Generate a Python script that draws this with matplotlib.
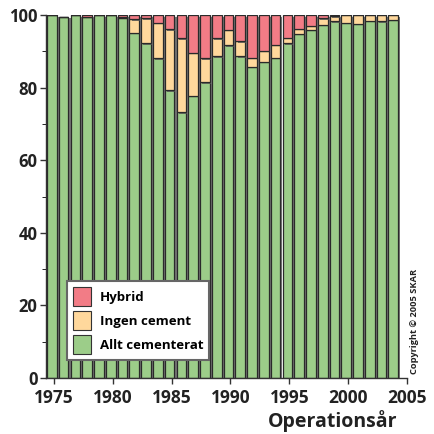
#!/usr/bin/env python3
"""
stacked share of fixation type per operation year
"""

import numpy as np
import matplotlib
matplotlib.use('Agg')
import matplotlib.pyplot as plt
import matplotlib.patheffects as pe
from matplotlib.patches import Patch

years = list(range(1975, 2005))

# percent per year
allt_cementerat = [100.0, 99.5, 100.0, 99.5, 100.0, 100.0, 99.3, 95.2, 92.2, 88.1,
                   79.3, 73.2, 77.7, 81.5, 88.7, 91.7, 88.7, 85.8, 87.2, 88.3,
                   92.2, 94.8, 96.0, 97.4, 98.3, 97.9, 97.6, 98.5, 98.3, 98.8]
ingen_cement = [0.0, 0.0, 0.0, 0.0, 0.0, 0.0, 0.2, 3.7, 6.9, 9.8,
                16.8, 20.4, 11.9, 6.6, 4.9, 4.2, 4.1, 2.5, 3.0, 3.6,
                1.6, 1.5, 1.0, 1.7, 1.4, 2.1, 2.4, 1.5, 1.7, 1.2]
hybrid = [0.0, 0.0, 0.0, 0.5, 0.0, 0.0, 0.5, 1.1, 0.9, 2.1,
          3.9, 6.4, 10.4, 11.9, 6.4, 4.1, 7.2, 11.7, 9.8, 8.1,
          6.2, 3.7, 3.0, 0.9, 0.3, 0.0, 0.0, 0.0, 0.0, 0.0]

labels = ['Hybrid', 'Ingen cement', 'Allt cementerat']
colors = {'Hybrid': '#f27c86', 'Ingen cement': '#ffd89c', 'Allt cementerat': '#9ccd89'}

plt.rcParams['font.family'] = ['Open Sans', 'DejaVu Sans']
plt.rcParams['font.weight'] = 'bold'

fig = plt.figure(figsize=(4.34, 4.34), dpi=100)
ax = fig.add_axes([0.106, 0.129, 0.832, 0.836])

x = np.array(years) - 0.17
green = np.array(allt_cementerat)
yellow = np.array(ingen_cement)
red = np.array(hybrid)

shadow = [pe.SimplePatchShadow(offset=(1.5, -1.0), shadow_rgbFace='#555555', alpha=0.8),
          pe.Normal()]
common = dict(width=0.82, edgecolor='#2a2a2a', linewidth=0.9)
bars = ax.bar(x, green, color=colors['Allt cementerat'], **common)
bars_y = ax.bar(x, yellow, bottom=green, color=colors['Ingen cement'], **common)
bars_r = ax.bar(x, red, bottom=green + yellow, color=colors['Hybrid'], **common)
for group in (bars, bars_y, bars_r):
    for patch in group:
        if patch.get_height() > 0:
            patch.set_path_effects(shadow)

ax.set_xlim(1974.33, 2004.4)
ax.set_ylim(0, 100)
ax.set_xticks(range(1975, 2006, 5))
ax.set_yticks(range(0, 101, 20))
ax.set_yticks(range(10, 100, 20), minor=True)
ax.tick_params(axis='both', width=1, color='#333333')
ax.tick_params(axis='y', which='major', length=4, pad=2, labelsize=12)
ax.tick_params(axis='y', which='minor', length=3)
ax.tick_params(axis='x', length=4, pad=4, labelsize=12.5)
for lab in ax.get_xticklabels() + ax.get_yticklabels():
    lab.set_fontweight('bold')
    lab.set_color('#222222')

for side in ('top', 'right'):
    ax.spines[side].set_visible(False)
for side in ('left', 'bottom'):
    ax.spines[side].set_color('#333333')
    ax.spines[side].set_linewidth(1)

handles = [Patch(facecolor=colors[l], edgecolor='#333333', linewidth=0.8) for l in labels]
leg = ax.legend(handles, labels, loc='lower left', bbox_to_anchor=(0.058, 0.05),
                frameon=True, fancybox=False, edgecolor='#666666', framealpha=1,
                prop={'weight': 'bold', 'size': 9.5}, handlelength=1.35,
                handleheight=1.8, handletextpad=0.7, labelspacing=0.4,
                borderpad=0.45, borderaxespad=0)
leg.get_frame().set_linewidth(1.5)

fig.text(0.915, 0.017, 'Operationsår', ha='right', va='baseline',
         fontsize=14, fontweight='bold', color='#222222')
fig.text(0.956, 0.26, 'Copyright © 2005 SKAR', rotation=90, ha='center',
         va='center', fontsize=6.7, fontweight='bold', color='#222222')

fig.savefig('out.png', dpi=100)
plt.close(fig)
